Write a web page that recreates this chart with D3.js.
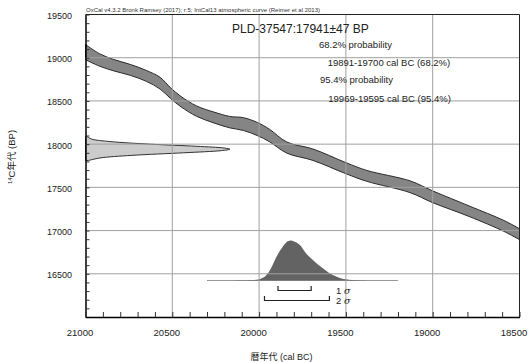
<!DOCTYPE html>
<html>
<head>
<meta charset="utf-8">
<script src="https://cdn.jsdelivr.net/npm/d3@7"></script>
<style>
  body { margin: 0; background: #fff; }
  svg { display: block; font-family: "Liberation Sans", "Noto Sans CJK JP", sans-serif; }
</style>
</head>
<body>
<svg></svg>
<script>
// calibration curve (IntCal13)
const curveCal = [21000, 20920, 20840, 20740, 20650, 20570, 20510, 20450, 20360, 20260, 20170, 20090, 20010, 19940, 19840, 19690, 19500, 19380, 19130, 19000, 18790, 18590, 18500];
const curveBP  = [19065, 18975, 18915, 18858, 18790, 18705, 18590, 18492, 18382, 18308, 18255, 18232, 18175, 18100, 17960, 17878, 17722, 17633, 17507, 17391, 17224, 17054, 16958];
const curveErr = [88, 72, 66, 63, 63, 68, 62, 60, 60, 63, 66, 74, 76, 72, 64, 66, 64, 63, 68, 68, 61, 63, 63];

// measured radiocarbon date (left distribution)
const bpDistBP = [18090, 18060, 18030, 18000, 17975, 17955, 17941, 17925, 17900, 17870, 17840, 17810];
const bpDistP  = [0.01, 0.04, 0.17, 0.45, 0.77, 0.96, 1, 0.94, 0.68, 0.32, 0.1, 0.02];

// calibrated distribution (bottom)
const calDistBC = [20300, 20150, 20050, 20005, 19966, 19937, 19899, 19861, 19835, 19815, 19795, 19765, 19730, 19700, 19650, 19600, 19550, 19500, 19420, 19200];
const calDistP  = [0, 0.002, 0.01, 0.025, 0.1, 0.26, 0.6, 0.86, 0.98, 1, 0.97, 0.89, 0.68, 0.55, 0.36, 0.2, 0.09, 0.03, 0.005, 0];

const range68 = [19891, 19700];
const range95 = [19969, 19595];

const xTicks = [21000, 20500, 20000, 19500, 19000, 18500];
const yTicks = [19500, 19000, 18500, 18000, 17500, 17000, 16500];

const header = "OxCal v4.3.2 Bronk Ramsey (2017); r:5; IntCal13 atmospheric curve (Reimer et al 2013)";
const title = "PLD-37547:17941\u00b147 BP";
const notes = ["68.2% probability", "19891-19700 cal BC (68.2%)", "95.4% probability", "19969-19595 cal BC (95.4%)"];

var width = 530, height = 362;
var m = {left: 85.5, right: 519.5, top: 14.5, bottom: 317};

var svg = d3.select("svg").attr("width", width).attr("height", height);

var x = d3.scaleLinear().domain([21000, 18500]).range([m.left, m.right]);
var y = d3.scaleLinear().domain([16000, 19500]).range([m.bottom, m.top]);
var bpW = d3.scaleLinear().domain([0, 1]).range([0, 144.5]);
var calH = d3.scaleLinear().domain([0, 1]).range([0, 40]);
var calBase = 280.5;

// calibration curve band
var band = d3.area()
    .x(function(d, i) { return x(curveCal[i]); })
    .y0(function(d, i) { return y(curveBP[i] - curveErr[i]); })
    .y1(function(d, i) { return y(curveBP[i] + curveErr[i]); })
    .curve(d3.curveCatmullRom);
svg.append("path")
    .attr("d", band(curveCal))
    .attr("fill", "#858585")
    .attr("stroke", "#2a2a2a")
    .attr("stroke-width", 1);

// BP distribution
var bpArea = d3.area()
    .y(function(d, i) { return y(bpDistBP[i]); })
    .x0(m.left)
    .x1(function(d, i) { return m.left + bpW(bpDistP[i]); })
    .curve(d3.curveCatmullRom);
svg.append("path")
    .attr("d", bpArea(bpDistBP))
    .attr("fill", "#cccccc")
    .attr("stroke", "#333")
    .attr("stroke-width", 1);

// calibrated distribution
svg.append("line")
    .attr("x1", x(calDistBC[0])).attr("x2", x(calDistBC[calDistBC.length - 1]))
    .attr("y1", calBase).attr("y2", calBase)
    .attr("stroke", "#999").attr("stroke-width", 1);
var calArea = d3.area()
    .x(function(d, i) { return x(calDistBC[i]); })
    .y0(calBase)
    .y1(function(d, i) { return calBase - calH(calDistP[i]); })
    .curve(d3.curveCatmullRom);
svg.append("path")
    .attr("d", calArea(calDistBC))
    .attr("fill", "#636363");

// grid
svg.append("g").selectAll("line")
    .data(xTicks.slice(1, -1))
    .join("line")
    .attr("x1", d => x(d)).attr("x2", d => x(d))
    .attr("y1", m.top).attr("y2", m.bottom)
    .attr("stroke", "#a0a0a0").attr("stroke-width", 1);
svg.append("g").selectAll("line")
    .data(yTicks.slice(1))
    .join("line")
    .attr("x1", m.left).attr("x2", m.right)
    .attr("y1", d => y(d)).attr("y2", d => y(d))
    .attr("stroke", "#a0a0a0").attr("stroke-width", 1);

// frame
svg.append("path")
    .attr("d", "M" + m.left + "," + m.top + "H" + m.right + "V" + m.bottom)
    .attr("fill", "none").attr("stroke", "#222").attr("stroke-width", 1);

// axes with minor ticks every 100 years
var yAxis = d3.axisLeft(y).tickValues(d3.range(16000, 19501, 100)).tickSize(-4).tickFormat("").tickSizeOuter(0);
var gy = svg.append("g").attr("transform", "translate(" + m.left + ",0)").call(yAxis);
var xAxis = d3.axisBottom(x).tickValues(d3.range(18500, 21001, 100)).tickSize(-5).tickFormat("").tickSizeOuter(0);
var gx = svg.append("g").attr("transform", "translate(0," + m.bottom + ")").call(xAxis);
[gx, gy].forEach(function(g) {
    g.select(".domain").attr("stroke", "#000").attr("stroke-width", 1.5);
    g.selectAll(".tick line").attr("stroke", "#333");
});

// tick labels
svg.append("g").selectAll("text")
    .data(yTicks)
    .join("text")
    .attr("x", 72).attr("y", d => y(d) + 4.5)
    .attr("text-anchor", "end")
    .attr("font-size", 9).attr("fill", "#222")
    .text(d => d);
svg.append("g").selectAll("text")
    .data(xTicks)
    .join("text")
    .attr("x", d => x(d) - 5.5).attr("y", 336)
    .attr("text-anchor", "middle")
    .attr("font-size", 9.5).attr("fill", "#222")
    .text(d => d);

// axis titles
svg.append("text")
    .attr("x", 281.5).attr("y", 360)
    .attr("text-anchor", "middle")
    .attr("font-size", 9).attr("fill", "#222")
    .text("暦年代 (cal BC)");
var yl = svg.append("text")
    .attr("transform", "translate(15,157) rotate(-90)")
    .attr("text-anchor", "middle")
    .attr("font-size", 9.5).attr("fill", "#222");
yl.append("tspan").attr("font-size", 6).attr("dy", -3).text("14");
yl.append("tspan").attr("dy", 3).text("C年代 (BP)");

// header and labels
svg.append("text")
    .attr("x", 86).attr("y", 11.5)
    .attr("font-size", 5.5).attr("fill", "#333")
    .attr("textLength", 234).attr("lengthAdjust", "spacingAndGlyphs")
    .text(header);
svg.append("text")
    .attr("x", 232).attr("y", 33)
    .attr("font-size", 12).attr("fill", "#222")
    .text(title);
var noteX = [319, 327.7, 320, 328.3], noteY = [48.3, 65.7, 83.3, 101.7];
svg.append("g").selectAll("text")
    .data(notes)
    .join("text")
    .attr("x", (d, i) => noteX[i]).attr("y", (d, i) => noteY[i])
    .attr("font-size", 9.5).attr("fill", "#222")
    .text(d => d);

// sigma brackets
function bracket(r, yy, label) {
    var x0 = x(r[0]), x1 = x(r[1]);
    svg.append("path")
        .attr("d", "M" + x0 + "," + (yy - 4.5) + "V" + yy + "H" + x1 + "V" + (yy - 4.5))
        .attr("fill", "none").attr("stroke", "#222").attr("stroke-width", 1.2);
    var t = svg.append("text")
        .attr("x", 336).attr("y", yy + 3)
        .attr("font-size", 9.5).attr("fill", "#222");
    t.append("tspan").text(label + " ");
    t.append("tspan").attr("font-style", "italic").attr("font-family", "DejaVu Serif").text("σ");
}
bracket(range68, 290.5, "1");
bracket(range95, 300.5, "2");
</script>
</body>
</html>
